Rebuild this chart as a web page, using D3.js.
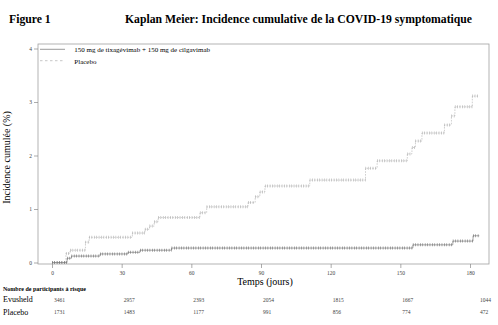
<!DOCTYPE html>
<html>
<head>
<meta charset="utf-8">
<script src="https://cdn.jsdelivr.net/npm/d3@7"></script>
<style>
  body { margin: 0; background: #fff; }
  text { font-family: "Liberation Serif", "Times New Roman", serif; }
</style>
</head>
<body>
<div id="chart"></div>
<script>
/* Kaplan Meier: cumulative incidence, Evusheld vs placebo */

const timeTicks = [0, 30, 60, 90, 120, 150, 180];
const yTicks = [0, 1, 2, 3, 4];

// step changes (day, cumulative incidence %)
const evuTimes  = [0, 6.5, 8.4, 20.7, 32.7, 37.9, 51.5, 155.4, 172.6, 181.3];
const evuValues = [0, 0.08, 0.12, 0.16, 0.19, 0.23, 0.27, 0.33, 0.40, 0.50];
const evuEnd = 184;

const pboTimes  = [0, 6, 7.8, 14.4, 16, 34.6, 40, 42, 44, 45.7, 63.7, 66.6, 84.4, 87.5, 89.5, 91.7,
                   111, 135, 140, 153, 155, 156.5, 159.3, 169, 172, 173.5, 181];
const pboValues = [0, 0.17, 0.23, 0.38, 0.47, 0.55, 0.62, 0.68, 0.76, 0.84, 0.93, 1.04, 1.12, 1.23, 1.32, 1.43,
                   1.54, 1.76, 1.90, 2.03, 2.15, 2.27, 2.42, 2.57, 2.74, 2.91, 3.11];
const pboEnd = 184;

const evuRisk = [3461, 2957, 2393, 2054, 1815, 1667, 1044];
const pboRisk = [1731, 1483, 1177, 991, 856, 774, 472];

const width = 498, height = 325;
const frame = {left: 38, top: 44, right: 489, bottom: 264};
const evuColor = "#707070", pboColor = "#b0b0b0";

let svg = d3.select("#chart")
    .append("svg")
    .attr("width", width)
    .attr("height", height);

let x = d3.scaleLinear()
    .domain([0, 180])
    .range([52, 470]);

let y = d3.scaleLinear()
    .domain([0, 4])
    .range([262.5, 48.5]);

// titles
svg.append("text")
    .attr("x", 9).attr("y", 22.5)
    .attr("font-size", 11.7).attr("font-weight", "bold")
    .text("Figure 1");

svg.append("text")
    .attr("x", 125).attr("y", 22.5)
    .attr("font-size", 11.7).attr("font-weight", "bold")
    .text("Kaplan Meier: Incidence cumulative de la COVID-19 symptomatique");

// frame
svg.append("rect")
    .attr("x", frame.left).attr("y", frame.top)
    .attr("width", frame.right - frame.left)
    .attr("height", frame.bottom - frame.top)
    .attr("fill", "none")
    .attr("stroke", "#a0a0a0")
    .attr("stroke-width", 0.8);

// axes
const yAxis = g => g
    .attr("transform", `translate(${frame.left},0)`)
    .call(d3.axisLeft(y).tickValues(yTicks).tickFormat(d3.format("d")).tickSize(4).tickPadding(2))
    .call(g => g.select(".domain").remove());

const xAxis = g => g
    .attr("transform", `translate(0,${frame.bottom})`)
    .call(d3.axisBottom(x).tickValues(timeTicks).tickFormat(d3.format("d")).tickSize(4).tickPadding(3.5))
    .call(g => g.select(".domain").remove());

svg.append("g").call(yAxis);
svg.append("g").call(xAxis);

svg.selectAll(".tick line").attr("stroke", "#888").attr("stroke-width", 0.7);
svg.selectAll(".tick text")
    .attr("font-size", 5.5)
    .attr("fill", "#444");

// axis titles
svg.append("text")
    .attr("transform", "translate(10,157.5) rotate(-90)")
    .attr("text-anchor", "middle")
    .attr("font-size", 10)
    .text("Incidence cumulée (%)");

svg.append("text")
    .attr("x", 265).attr("y", 285)
    .attr("text-anchor", "middle")
    .attr("font-size", 10)
    .text("Temps (jours)");

// curves
function stepPoints(times, values, end) {
    let pts = times.map((t, i) => [t, values[i]]);
    pts.push([end, values[values.length - 1]]);
    return pts;
}

function flatSegments(times, values, end) {   // horizontal parts only, used for the "+" censor marks
    let p = "";
    times.forEach((t, i) => {
        let t2 = i < times.length - 1 ? times[i + 1] : end;
        p += `M${x(t)},${y(values[i])}H${x(t2)}`;
    });
    return p;
}

const line = d3.line()
    .x(d => x(d[0]))
    .y(d => y(d[1]))
    .curve(d3.curveStepAfter);

const series = [
    {times: pboTimes, values: pboValues, end: pboEnd, color: pboColor, dash: "1.6,1.2"},
    {times: evuTimes, values: evuValues, end: evuEnd, color: evuColor, dash: null}
];

series.forEach(s => {
    svg.append("path")
        .attr("d", line(stepPoints(s.times, s.values, s.end)))
        .attr("fill", "none")
        .attr("stroke", s.color)
        .attr("stroke-width", 0.6)
        .attr("stroke-dasharray", s.dash);

    svg.append("path")
        .attr("d", flatSegments(s.times, s.values, s.end))
        .attr("fill", "none")
        .attr("stroke", s.color)
        .attr("stroke-width", 3)
        .attr("stroke-dasharray", "0.6,1.8");
});

// legend
const legend = [
    {label: "150 mg de tixagévimab + 150 mg de cilgavimab", color: evuColor, dash: null, y: 49.3},
    {label: "Placebo", color: pboColor, dash: "2.5,2.5", y: 60.7}
];

legend.forEach(l => {
    svg.append("line")
        .attr("x1", 40).attr("x2", 65)
        .attr("y1", l.y).attr("y2", l.y)
        .attr("stroke", l.color)
        .attr("stroke-width", 0.7)
        .attr("stroke-dasharray", l.dash);
    svg.append("text")
        .attr("x", 74.3).attr("y", l.y + 2.8)
        .attr("font-size", 7)
        .text(l.label);
});

// risk table
svg.append("text")
    .attr("x", 3).attr("y", 290.5)
    .attr("font-size", 6)
    .attr("font-weight", "bold")
    .text("Nombre de participants à risque");

const rows = [
    {name: "Evusheld", counts: evuRisk, y: 302},
    {name: "Placebo", counts: pboRisk, y: 314.5}
];

rows.forEach(r => {
    svg.append("text")
        .attr("x", 3).attr("y", r.y)
        .attr("font-size", 8)
        .text(r.name);

    svg.selectAll(null)
        .data(r.counts)
        .join("text")
        .attr("x", (d, i) => x(timeTicks[i]) + (i === timeTicks.length - 1 ? 10 : 2))
        .attr("y", r.y - 0.5)
        .attr("font-size", 5.5)
        .attr("fill", "#444")
        .text(d => d);
});
</script>
</body>
</html>
